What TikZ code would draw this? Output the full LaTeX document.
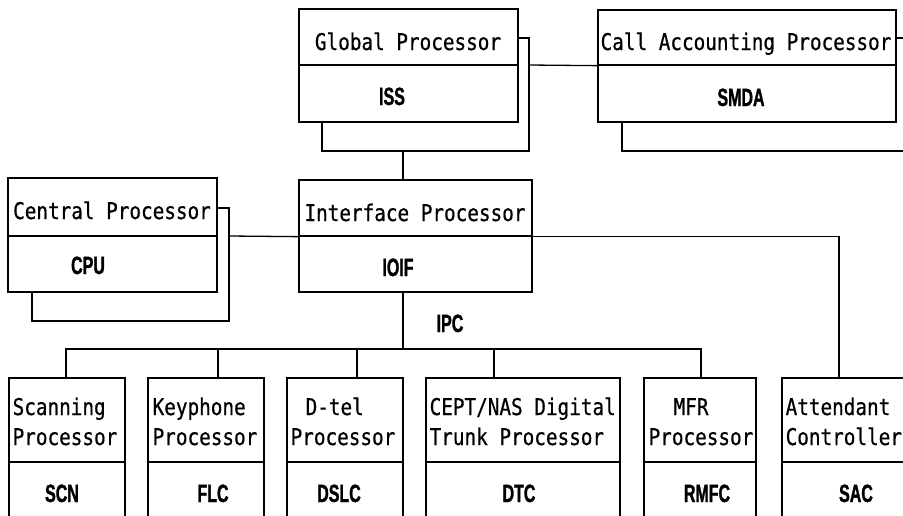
\documentclass[tikz,border=0pt]{standalone}
\usepackage{fontspec}
\newfontfamily\titlefont{DejaVu Sans Mono}[FakeStretch=0.84, FakeBold=0.6]
\newfontfamily\codefont{Liberation Sans}[FakeStretch=0.64, FakeBold=1.2]
\usetikzlibrary{fit}
\begin{document}
\begin{tikzpicture}[x=1pt,y=-1pt, line width=1.3pt,
  cell/.style={draw, rectangle, inner sep=0pt, line width=1.3pt},
  ttl/.style={inner sep=0pt, font=\titlefont\fontsize{23}{27}\selectfont},
  code/.style={inner sep=0pt, font=\codefont\bfseries\fontsize{25}{29}\selectfont},
  wire/.style={draw, line width=1.3pt},
  shadowline/.style={draw, line width=1.3pt},
]
\useasboundingbox (0,0) rectangle (903,515);
\clip (0,0) rectangle (903,515);

% ---------- top row ----------
\node[cell, fit={(299,9)(518,65)}] (gpT) {};
\node[cell, fit={(299,65)(518,122)}] (gpB) {};
\node[cell, fit={(598,10)(896,65)}] (caT) {};
\node[cell, fit={(598,65)(896,122)}] (caB) {};
% ---------- middle row ----------
\node[cell, fit={(8,178)(217,236)}] (cpT) {};
\node[cell, fit={(8,236)(217,292)}] (cpB) {};
\node[cell, fit={(299,180)(532,236)}] (ipT) {};
\node[cell, fit={(299,236)(532,292)}] (ipB) {};
% ---------- bottom row ----------
\node[cell, fit={(9,378)(125,462)}] (scT) {};
\node[cell, fit={(9,462)(125,540)}] (scB) {};
\node[cell, fit={(148,378)(264,462)}] (kpT) {};
\node[cell, fit={(148,462)(264,540)}] (kpB) {};
\node[cell, fit={(287,378)(403,462)}] (dtT) {};
\node[cell, fit={(287,462)(403,540)}] (dtB) {};
\node[cell, fit={(426,378)(620,462)}] (ceT) {};
\node[cell, fit={(426,462)(620,540)}] (ceB) {};
\node[cell, fit={(644,378)(756,462)}] (mfT) {};
\node[cell, fit={(644,462)(756,540)}] (mfB) {};
\node[cell, fit={(782,378)(920,462)}] (atT) {};
\node[cell, fit={(782,462)(920,540)}] (atB) {};

% ---------- duplicated (back) units ----------
\draw[shadowline] (gpT.east |- 0,38) -| (529,151) -| (322,122);
\draw[shadowline] (caT.east |- 0,38) -- (920,38);
\draw[shadowline] (622,122) |- (920,151);
\draw[shadowline] (cpT.east |- 0,208) -| (229,321) -| (32,292);

% ---------- connection points ----------
\coordinate (gpS) at (403,151);
\coordinate (gpR) at (529,65);
\coordinate (cpR) at (229,236);
\coordinate (atIn) at (839,378);
\coordinate (ipOut) at (403,292);
\coordinate (ipc) at (403,349);
\coordinate (scIn) at (66,378);
\coordinate (kpIn) at (218,378);
\coordinate (dtIn) at (357,378);
\coordinate (ceIn) at (494,378);
\coordinate (mfIn) at (701,378);

% ---------- connectors ----------
\draw[wire] (gpS) -- (gpS |- ipT.north);
\draw[wire] (gpR) -- (caT.south west);
\draw[wire] (cpR) -- (ipT.south west);
\draw[wire] (ipT.south east) -| (atIn);
\draw[wire] (ipOut) -- (ipc);
\draw[wire] (scIn) |- (ipc) -| (mfIn);
\draw[wire] (kpIn) -- (kpIn |- ipc);
\draw[wire] (dtIn) -- (dtIn |- ipc);
\draw[wire] (ceIn) -- (ceIn |- ipc);

% ---------- texts ----------
\node[ttl, anchor=base] (gpL) at (408,50) {Global Processor};
\node[code, anchor=base] (gpC) at (392,105) {ISS};
\node[ttl, anchor=base] (caL) at (746,50) {Call Accounting Processor};
\node[code, anchor=base] (caC) at (741,106) {SMDA};
\node[ttl, anchor=base] (cpL) at (112,219) {Central Processor};
\node[code, anchor=base] (cpC) at (88,274) {CPU};
\node[ttl, anchor=base] (ipL) at (415,221) {Interface Processor};
\node[code, anchor=base] (ipC) at (398,276) {IOIF};
\node[code, anchor=base] (ipcL) at (450,332) {IPC};

\node[ttl, anchor=base west] (scL1) at (12,415) {Scanning};
\node[ttl, anchor=base west] (scL2) at (12,445) {Processor};
\node[code, anchor=base] (scC) at (62,502) {SCN};
\node[ttl, anchor=base west] (kpL1) at (152,415) {Keyphone};
\node[ttl, anchor=base west] (kpL2) at (152,445) {Processor};
\node[code, anchor=base] (kpC) at (213,502) {FLC};
\node[ttl, anchor=base west] (dtL1) at (305,415) {D-tel};
\node[ttl, anchor=base west] (dtL2) at (290,445) {Processor};
\node[code, anchor=base] (dtC) at (339,502) {DSLC};
\node[ttl, anchor=base west] (ceL1) at (429,415) {CEPT/NAS Digital};
\node[ttl, anchor=base west] (ceL2) at (429,445) {Trunk Processor};
\node[code, anchor=base] (ceC) at (519,502) {DTC};
\node[ttl, anchor=base west] (mfL1) at (673,415) {MFR};
\node[ttl, anchor=base west] (mfL2) at (648,445) {Processor};
\node[code, anchor=base] (mfC) at (707,502) {RMFC};
\node[ttl, anchor=base west] (atL1) at (785,415) {Attendant};
\node[ttl, anchor=base west] (atL2) at (785,445) {Controller};
\node[code, anchor=base] (atC) at (856,502) {SAC};
\end{tikzpicture}
\end{document}
